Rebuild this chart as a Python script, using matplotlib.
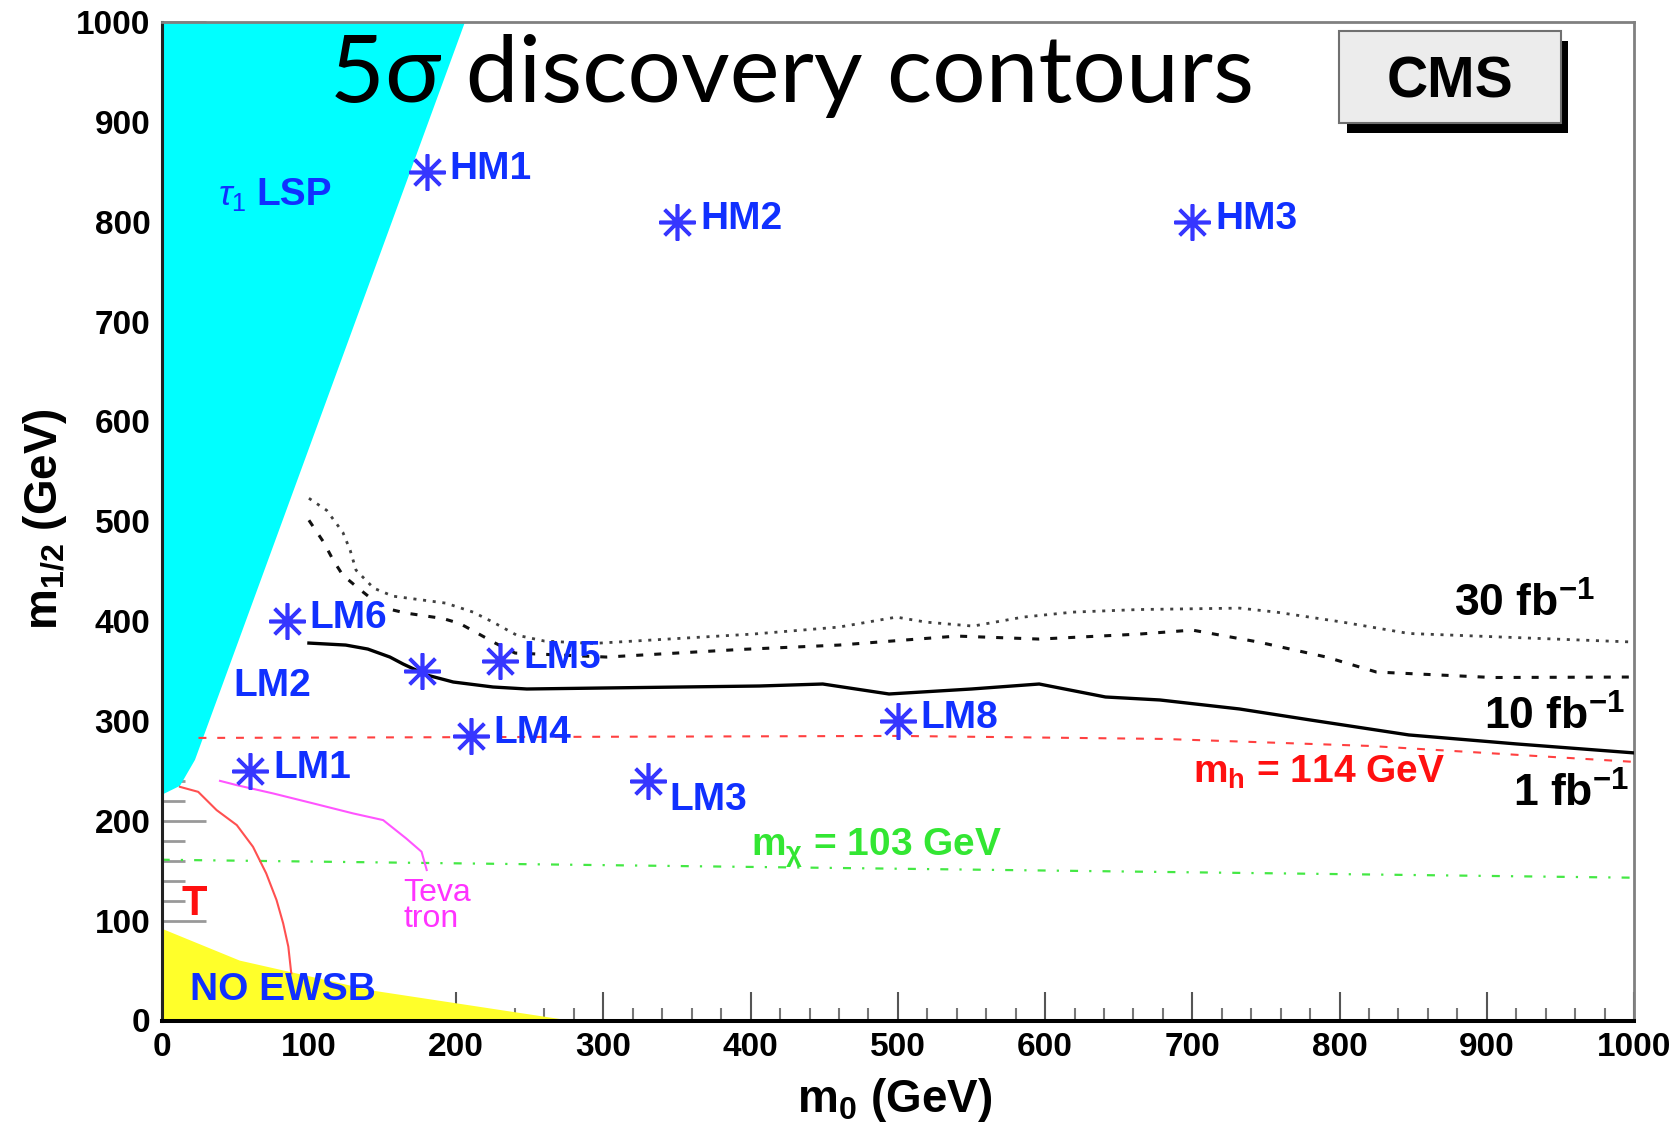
import matplotlib
matplotlib.use("Agg")
import matplotlib.pyplot as plt
from matplotlib.patches import Rectangle

plt.rcParams["font.family"] = ["Liberation Sans", "DejaVu Sans"]
plt.rcParams["mathtext.fontset"] = "custom"
plt.rcParams["mathtext.rm"] = "Liberation Sans"
plt.rcParams["mathtext.bf"] = "Liberation Sans:bold"
plt.rcParams["mathtext.it"] = "Liberation Sans:italic"
plt.rcParams["mathtext.sf"] = "Liberation Sans"

# ---------------- data (m0, m1/2 in GeV) ----------------
x_ticks = [0, 100, 200, 300, 400, 500, 600, 700, 800, 900, 1000]
x_tick_labels = ["0", "100", "200", "300", "400", "500", "600", "700", "800", "900", "1000"]
y_ticks = [0, 100, 200, 300, 400, 500, 600, 700, 800, 900, 1000]
y_tick_labels = ["0", "100", "200", "300", "400", "500", "600", "700", "800", "900", "1000"]

# excluded regions
lsp_m0 = [0, 206, 22.6, 12.4, 0]
lsp_m12 = [1000, 1000, 261, 235, 226]
ewsb_m0 = [0, 53, 143, 277, 0]
ewsb_m12 = [92, 60, 30, 0, 0]

# 5 sigma discovery contours
m0_1fb = [100, 125, 140, 155, 164, 180, 198, 225, 248, 300, 406, 449, 494, 550, 596, 641, 678, 732, 780, 847,
          920, 1000]
m12_1fb = [378, 376, 372, 364, 357, 346, 339, 334, 332, 333, 335, 337, 327, 332, 337, 324, 321, 312, 301, 286,
           277, 268]

m0_10fb = [100, 110, 116.5, 123, 133.5, 143.6, 152.7, 166, 191, 202.5, 216, 227, 240, 302, 393, 460, 540, 596,
           664, 700, 745, 791, 825, 904, 1000]
m12_10fb = [501, 479, 461, 446, 433, 421, 412.6, 408, 402.6, 397.6, 386.6, 377.6, 368, 364, 371.6, 376, 385, 382,
            387, 391, 379, 364, 349, 343.5, 344]

m0_30fb = [100, 112, 123, 128, 132, 144, 157, 193, 211.5, 225, 241, 260, 293, 401.5, 460, 499, 519, 551, 585,
           619, 664, 732, 757, 802, 847, 1000]
m12_30fb = [523, 511, 489, 471, 451, 433, 425, 418, 409, 399, 386, 380, 377.6, 387, 394, 404, 399, 395, 404,
            409, 411.6, 413, 409, 399, 387.6, 379]

# LEP Higgs and chargino limits
m0_mh = [25, 500, 680, 820, 1000]
m12_mh = [283, 285, 282, 275, 259]
m0_mchi = [0, 334, 1000]
m12_mchi = [161, 155, 143]

# Tevatron and slepton limits
m0_tev = [39.6, 51, 75.7, 103, 130, 150.4, 166, 176.5, 180]
m12_tev = [240, 235.7, 227.4, 217.4, 207.4, 200.7, 182.4, 169, 150.7]
m0_slep = [12.4, 24.8, 37.3, 51, 62, 71, 78, 82.5, 86, 88]
m12_slep = [234, 229, 210.7, 195.7, 174, 147.3, 120.6, 97.3, 74, 47.2]

# CMS benchmark points
bm_names = ["HM1", "HM2", "HM3", "LM1", "LM2", "LM3", "LM4", "LM5", "LM6", "LM8"]
bm_m0 = [180, 350, 700, 60, 177, 330, 210, 230, 85, 500]
bm_m12 = [850, 800, 800, 250, 350, 240, 285, 360, 400, 300]

# ---------------- figure ----------------
W, H = 1672, 1125
fig = plt.figure(figsize=(W / 100, H / 100), dpi=100)
ax_l, ax_r, ax_t, ax_b = 161.7, 1634.0, 22.0, 1020.5
ax = fig.add_axes([ax_l / W, 1 - ax_b / H, (ax_r - ax_l) / W, (ax_b - ax_t) / H])
ax.set_xlim(0, 1000)
ax.set_ylim(0, 1000)
ax.set_axisbelow(True)

BLUE_STAR = "#3636ff"
BLUE_TXT = "#1030ff"

# filled regions
ax.fill(lsp_m0, lsp_m12, color="#00ffff", lw=0, zorder=1)
ax.fill(ewsb_m0, ewsb_m12, color="#ffff2a", lw=0, zorder=1)

# limit lines
ax.plot(m0_mh, m12_mh, color="#ff4040", lw=1.5, ls=(0, (3.8, 5.2)), zorder=2)
ax.plot(m0_mchi, m12_mchi, color="#44e844", lw=1.6, ls=(0, (3.6, 5.0, 1.0, 5.0)), zorder=2)
ax.plot(m0_tev, m12_tev, color="#ff55ff", lw=1.5, zorder=2)
ax.plot(m0_slep, m12_slep, color="#ff5050", lw=1.5, zorder=2)

# discovery contours
ax.plot(m0_30fb, m12_30fb, color="#404040", lw=2.0, ls=(0, (1.1, 2.4)), zorder=3)
ax.plot(m0_10fb, m12_10fb, color="#111111", lw=2.2, ls=(0, (2.3, 3.6)), zorder=3)
ax.plot(m0_1fb, m12_1fb, color="black", lw=2.4, zorder=3)

# benchmark points
ax.plot(bm_m0, bm_m12, ls="none", marker=(8, 2, 0), ms=26, mew=2.6, color=BLUE_STAR, zorder=4)
label_offsets = {"LM3": (16, -14)}
for name, x, y in zip(bm_names, bm_m0, bm_m12):
    if name == "LM2":
        continue
    dx, dy = label_offsets.get(name, (16.5, 2))
    ax.annotate(name, (x, y), xytext=(dx, dy), textcoords="offset points", ha="left", va="center",
                fontsize=28, fontweight="bold", color=BLUE_TXT, zorder=5)
ax.text(49, 335, "LM2", ha="left", va="center", fontsize=28, fontweight="bold", color=BLUE_TXT, zorder=5)

# region and line labels
ax.text(38, 817, r"$\tau_{1}$", ha="left", va="baseline", fontsize=26, color=BLUE_TXT, zorder=5)
ax.text(64, 817, "LSP", ha="left", va="baseline", fontsize=28, fontweight="bold", color=BLUE_TXT, zorder=5)
ax.text(19, 21, "NO EWSB", ha="left", va="baseline", fontsize=28, fontweight="bold", color=BLUE_TXT, zorder=5)
ax.text(164, 94, "Teva\ntron", ha="left", va="baseline", fontsize=23, color="#ff33ff",
        linespacing=0.82, zorder=5)
ax.text(22, 117, "T", ha="center", va="center", fontsize=30, fontweight="bold", color="#ff1010", zorder=5)
ax.text(700.8, 237.7, r"m$_{\mathbf{h}}$ = 114 GeV", ha="left", va="baseline", fontsize=28,
        fontweight="bold", color="#ff1010", zorder=5)
ax.text(400.5, 164.6, r"m$_{\mathbf{\chi}}$ = 103 GeV", ha="left", va="baseline", fontsize=28,
        fontweight="bold", color="#33e633", zorder=5)

ax.text(877.8, 404.2, r"30 fb$^{\mathbf{-1}}$", ha="left", va="baseline", fontsize=32,
        fontweight="bold", color="black", zorder=5)
ax.text(898, 290.8, r"10 fb$^{\mathbf{-1}}$", ha="left", va="baseline", fontsize=32,
        fontweight="bold", color="black", zorder=5)
ax.text(918, 213.7, r"1 fb$^{\mathbf{-1}}$", ha="left", va="baseline", fontsize=32,
        fontweight="bold", color="black", zorder=5)

# axes styling
for side in ("top", "right"):
    ax.spines[side].set_color("#808080")
    ax.spines[side].set_linewidth(2.0)
ax.spines["left"].set_color("#222222")
ax.spines["left"].set_linewidth(2.2)
ax.spines["bottom"].set_color("black")
ax.spines["bottom"].set_linewidth(2.9)

ax.set_xticks(x_ticks, labels=x_tick_labels, fontsize=24, fontweight="bold")
ax.set_yticks(y_ticks, labels=y_tick_labels, fontsize=24, fontweight="bold")
ax.set_xticks(range(0, 1001, 20), minor=True)
ax.set_yticks(range(0, 1001, 20), minor=True)
ax.tick_params(axis="x", which="major", direction="in", length=21, width=1.5, color="#555555", pad=8)
ax.tick_params(axis="x", which="minor", direction="in", length=9.5, width=1.5, color="#777777")
ax.tick_params(axis="y", which="major", direction="in", length=32, width=2.0, color="#999999", pad=8)
ax.tick_params(axis="y", which="minor", direction="in", length=16.5, width=2.0, color="#999999")

# axis titles
fig.text(895 / W, 1 - 1100 / H, r"m$_{\mathbf{0}}$ (GeV)", ha="center", va="center",
         fontsize=33, fontweight="bold")
fig.text(45 / W, 1 - 519 / H, r"m$_{\mathbf{1/2}}$ (GeV)", ha="center", va="center", rotation=90,
         fontsize=33, fontweight="bold")

# headline
fig.text(330 / W, 1 - 102 / H, "5σ discovery contours", ha="left", va="baseline", fontsize=68,
         family=["Lato", "Open Sans", "DejaVu Sans"], color="black")

# CMS label box with drop shadow
fig.patches.append(Rectangle((1347 / W, 1 - 133 / H), 221 / W, 92 / H, transform=fig.transFigure,
                             facecolor="black", edgecolor="none", zorder=5))
fig.patches.append(Rectangle((1339 / W, 1 - 123 / H), 222 / W, 92 / H, transform=fig.transFigure,
                             facecolor="#ececec", edgecolor="#707070", lw=1.5, zorder=6))
fig.text(1450 / W, 1 - 82 / H, "CMS", ha="center", va="center", fontsize=41, fontweight="bold",
         color="black", zorder=7)

fig.savefig("out.png", dpi=100)
